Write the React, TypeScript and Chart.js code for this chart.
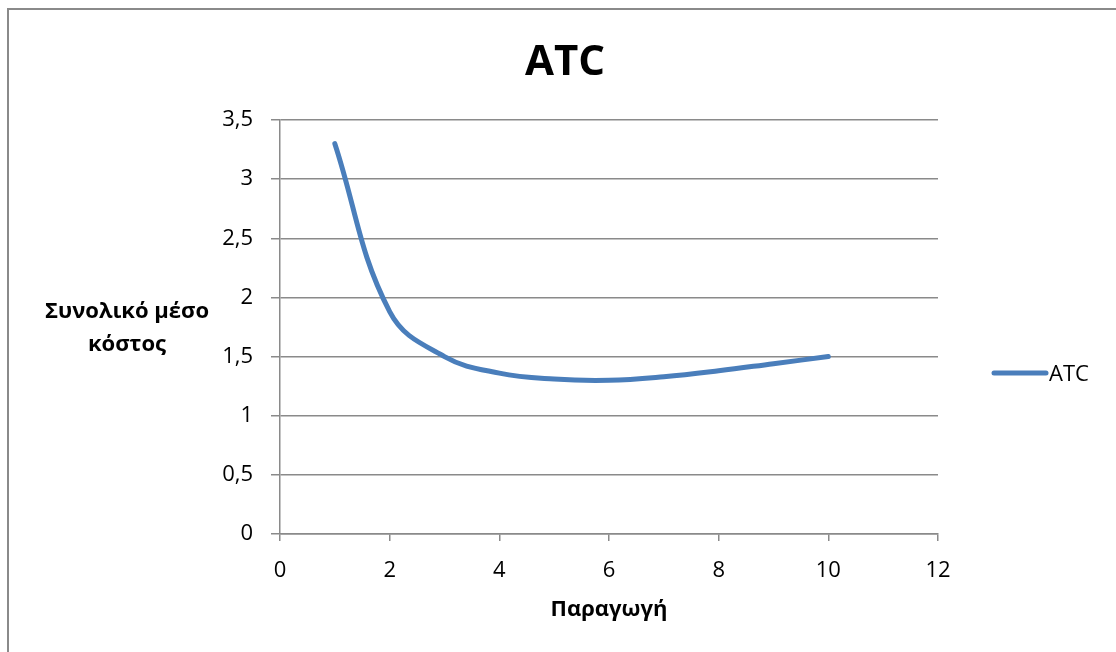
import React, { useEffect, useRef } from "react";
import { Chart, registerables } from "chart.js";

Chart.register(...registerables);

// Average total cost per unit of production
const production = [1, 2, 3, 4, 5, 6, 7, 8, 9, 10];
const atcValues = [3.3, 1.88, 1.5, 1.36, 1.31, 1.3, 1.33, 1.38, 1.44, 1.5];

const xTickLabels = ["0", "2", "4", "6", "8", "10", "12"];
const yTickLabels = ["0", "0,5", "1", "1,5", "2", "2,5", "3", "3,5"];

const chartTitle = "ATC";
const seriesName = "ATC";
const xAxisTitle = "Παραγωγή";
const yAxisTitleLines = ["Συνολικό μέσο", "κόστος"];

const FONT = "'Open Sans', 'DejaVu Sans', sans-serif";
const LINE_COLOR = "#4A7EBB";
const AXIS_COLOR = "#8A8A8A";

const decorations = {
  id: "decorations",
  afterDraw(chart: any) {
    const { ctx, chartArea } = chart;
    ctx.save();

    // frame around the chart object
    ctx.strokeStyle = AXIS_COLOR;
    ctx.lineWidth = 2;
    ctx.strokeRect(8, 9, 1300, 800);

    ctx.fillStyle = "#000";
    ctx.textAlign = "center";
    ctx.textBaseline = "alphabetic";

    // chart title
    ctx.font = `bold 42px ${FONT}`;
    ctx.fillText(chartTitle, 565, 75);

    // axis titles
    ctx.font = `bold 22px ${FONT}`;
    ctx.fillText(xAxisTitle, (chartArea.left + chartArea.right) / 2, 616);
    ctx.fillText(yAxisTitleLines[0], 127, 318);
    ctx.fillText(yAxisTitleLines[1], 127, 351);

    // legend
    ctx.strokeStyle = LINE_COLOR;
    ctx.lineWidth = 5;
    ctx.lineCap = "round";
    ctx.beginPath();
    ctx.moveTo(994, 373);
    ctx.lineTo(1046, 373);
    ctx.stroke();
    ctx.textAlign = "left";
    ctx.font = `22px ${FONT}`;
    ctx.fillText(seriesName, 1049, 381);

    ctx.restore();
  },
};

export default function App() {
  const canvasRef = useRef<HTMLCanvasElement | null>(null);

  useEffect(() => {
    const canvas = canvasRef.current;
    if (!canvas) return;
    const chart = new Chart(canvas, {
      type: "scatter",
      data: {
        datasets: [
          {
            label: seriesName,
            data: production.map((x, i) => ({ x, y: atcValues[i] })),
            showLine: true,
            borderColor: LINE_COLOR,
            backgroundColor: LINE_COLOR,
            borderWidth: 5,
            borderCapStyle: "round",
            borderJoinStyle: "round",
            pointRadius: 0,
            tension: 0.4,
          },
        ],
      },
      options: {
        responsive: false,
        animation: false,
        devicePixelRatio: 1,
        layout: { padding: { left: 0, right: 178, top: 120, bottom: 0 } },
        plugins: {
          legend: { display: false },
          title: { display: false },
          tooltip: { enabled: false },
        },
        scales: {
          x: {
            type: "linear",
            min: 0,
            max: 12,
            afterFit(scale: any) {
              scale.height = 118;
            },
            ticks: {
              stepSize: 2,
              color: "#000",
              padding: 17,
              font: { family: FONT, size: 22 },
              callback: (_v: any, i: number) => xTickLabels[i],
            },
            grid: {
              drawOnChartArea: false,
              drawTicks: true,
              tickLength: 7,
              color: AXIS_COLOR,
              lineWidth: 1.5,
            },
            border: { display: true, color: AXIS_COLOR, width: 1.5 },
          },
          y: {
            type: "linear",
            min: 0,
            max: 3.5,
            afterFit(scale: any) {
              scale.width = 280;
            },
            ticks: {
              stepSize: 0.5,
              color: "#000",
              padding: 18,
              font: { family: FONT, size: 22 },
              callback: (_v: any, i: number) => yTickLabels[i],
            },
            grid: {
              drawOnChartArea: true,
              drawTicks: true,
              tickLength: 9,
              color: AXIS_COLOR,
              lineWidth: 1.5,
            },
            border: { display: true, color: AXIS_COLOR, width: 1.5 },
          },
        },
      },
      plugins: [decorations],
    });
    return () => chart.destroy();
  }, []);

  return (
    <div
      style={{
        position: "absolute",
        left: 0,
        top: 0,
        width: 1116,
        height: 652,
        background: "#fff",
      }}
    >
      <canvas ref={canvasRef} width={1116} height={652} />
    </div>
  );
}
